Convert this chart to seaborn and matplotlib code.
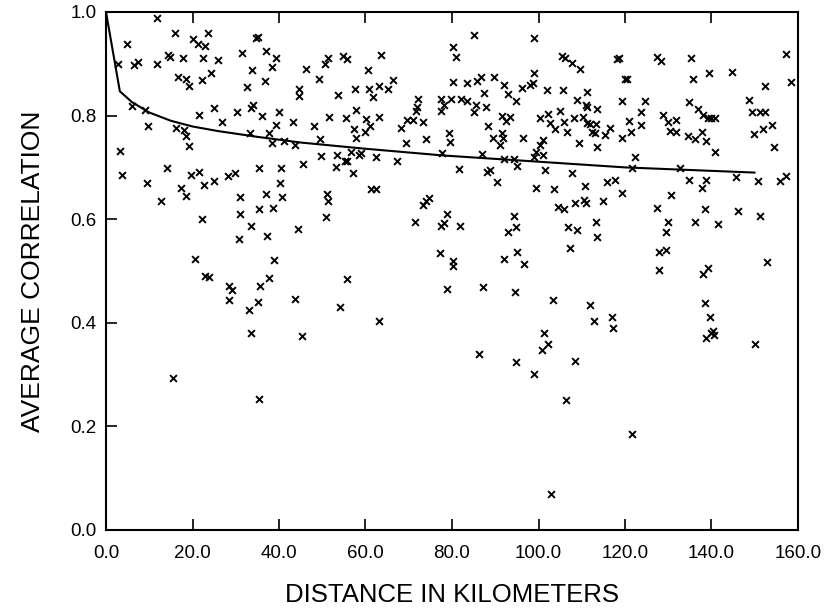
import matplotlib
matplotlib.use("Agg")
import matplotlib.pyplot as plt
import seaborn as sns
import pandas as pd
from matplotlib.ticker import FormatStrFormatter

# ---- data ----
distance_km = [
    11.8, 16.0, 23.5, 20.0, 21.2, 22.9, 4.8, 34.6, 2.8, 6.4, 7.4, 11.9, 14.3, 14.8, 17.7, 22.5,
    25.8, 31.4, 33.7, 24.2, 16.7, 18.6, 19.1, 22.3, 32.5, 5.9, 9.0, 9.8, 21.4, 25.0, 30.4, 26.9,
    33.6, 34.1, 16.3, 18.0, 18.6, 19.1, 33.3, 3.2, 3.6, 9.5, 14.1, 17.4, 18.4, 19.7, 21.5, 22.7,
    24.9, 28.1, 29.8, 12.7, 22.2, 31.0, 31.0, 33.5, 30.8, 20.6,
    35.1, 36.9, 39.4, 38.3, 36.8, 46.2, 51.3, 50.6, 54.9, 55.7, 63.6, 60.5, 49.2, 44.6, 44.6, 53.6,
    57.6, 60.7, 63.1, 65.1, 66.4, 61.7, 36.0, 40.0, 39.3, 43.3, 37.7, 38.4, 41.2, 43.7, 48.2, 49.4,
    51.6, 55.4, 57.8, 57.4, 57.8, 60.1, 61.1, 60.0, 63.1, 68.1, 69.6, 70.9, 71.6, 71.9, 72.2, 73.3,
    77.4, 77.4, 74.1, 69.4, 67.2, 62.4, 58.5, 59.0, 56.7, 53.4, 55.2, 55.8, 53.2, 57.1, 49.6, 45.6,
    35.4, 40.5, 40.3, 37.1, 40.8, 35.4, 38.5, 51.1, 51.4, 50.8, 61.3, 62.4, 44.3, 37.3, 38.8, 74.6,
    73.2, 74.1, 71.5, 77.4, 77.2,
    85.1, 99.0, 80.2, 80.9, 105.4, 106.2, 107.7, 109.5, 118.1, 118.7, 120.0, 98.9, 80.3, 83.4, 85.8, 86.6,
    89.7, 92.0, 92.9, 87.5, 94.8, 96.2, 98.0, 98.7, 102.0, 105.6, 111.2, 108.9, 110.9, 111.2, 113.5, 119.2,
    78.2, 79.7, 82.0, 83.5, 85.5, 85.2, 87.8, 91.6, 92.6, 93.4, 88.3, 79.3, 79.6, 89.5, 91.6, 91.8,
    91.2, 96.4, 100.4, 102.1, 102.7, 103.9, 105.0, 105.8, 106.6, 108.1, 109.4, 110.4, 111.2, 111.9, 112.3, 113.1,
    113.3, 113.6, 115.4, 116.5, 119.2, 101.0, 100.4, 99.5, 101.0, 98.9, 77.7, 87.0, 92.0, 94.4, 95.1, 81.6,
    88.1, 88.8, 101.4, 107.7, 90.4, 99.5, 103.5, 110.8, 115.8, 117.7, 119.4, 104.6, 105.8, 108.5, 110.6, 110.9,
    114.8, 78.8, 78.2, 81.9, 94.3, 92.9, 94.8, 106.8, 108.9, 113.3, 113.5, 107.3, 80.3, 80.3, 92.0, 95.1, 96.7,
    78.9, 87.2, 94.5, 103.3, 111.9, 112.9, 117.1, 117.3, 101.3, 102.3, 100.8, 86.3, 94.8, 108.5, 99.0, 106.4, 102.9,
    127.3, 128.3, 135.2, 157.3, 120.4, 135.7, 139.5, 144.8, 152.4, 158.3, 124.6, 123.8, 121.0, 123.6, 121.5, 122.4,
    121.7, 128.8, 129.9, 131.9, 130.5, 131.9, 134.9, 136.9, 138.0, 139.2, 139.9, 140.9, 137.9, 134.6, 136.2, 138.8,
    140.7, 132.8, 148.7, 149.3, 151.3, 152.4, 149.8, 151.8, 154.1, 154.4, 134.8, 138.8, 137.9, 145.7, 150.7, 155.9,
    157.2, 130.7, 127.3, 138.4, 146.1, 151.3, 130.0, 136.1, 141.6, 129.4, 127.8, 129.4, 152.8,
    127.8, 138.0, 139.3, 138.4, 139.7, 140.3, 139.8, 140.5, 138.8, 150.1, 121.7,
    22.8, 23.7, 28.5, 29.1, 28.5, 33.1, 33.5, 15.6, 35.7, 37.7, 35.1, 35.4, 43.8, 45.3, 55.8, 54.0, 63.2,
]
avg_corr = [
    0.989, 0.960, 0.959, 0.947, 0.938, 0.934, 0.938, 0.950, 0.900, 0.898, 0.904, 0.900, 0.917, 0.914, 0.912, 0.912,
    0.907, 0.920, 0.888, 0.882, 0.874, 0.871, 0.858, 0.869, 0.856, 0.818, 0.811, 0.780, 0.802, 0.814, 0.806, 0.787,
    0.814, 0.821, 0.777, 0.773, 0.761, 0.742, 0.767, 0.732, 0.685, 0.669, 0.698, 0.661, 0.644, 0.685, 0.692, 0.666,
    0.674, 0.683, 0.690, 0.635, 0.601, 0.642, 0.611, 0.587, 0.561, 0.523,
    0.951, 0.925, 0.912, 0.893, 0.866, 0.890, 0.911, 0.899, 0.915, 0.909, 0.917, 0.888, 0.870, 0.851, 0.838, 0.840,
    0.851, 0.851, 0.857, 0.851, 0.869, 0.836, 0.799, 0.806, 0.782, 0.788, 0.766, 0.748, 0.751, 0.743, 0.779, 0.755,
    0.797, 0.795, 0.810, 0.774, 0.757, 0.793, 0.779, 0.769, 0.797, 0.777, 0.792, 0.792, 0.808, 0.817, 0.833, 0.788,
    0.833, 0.808, 0.755, 0.748, 0.712, 0.721, 0.724, 0.728, 0.730, 0.724, 0.712, 0.713, 0.700, 0.690, 0.722, 0.706,
    0.698, 0.699, 0.670, 0.648, 0.642, 0.620, 0.622, 0.648, 0.635, 0.605, 0.658, 0.658, 0.582, 0.568, 0.521, 0.640,
    0.627, 0.635, 0.594, 0.586, 0.534,
    0.956, 0.950, 0.933, 0.913, 0.915, 0.912, 0.901, 0.889, 0.909, 0.911, 0.871, 0.882, 0.864, 0.862, 0.866, 0.875,
    0.875, 0.859, 0.841, 0.843, 0.829, 0.854, 0.859, 0.862, 0.849, 0.849, 0.846, 0.831, 0.820, 0.817, 0.813, 0.828,
    0.820, 0.832, 0.833, 0.828, 0.820, 0.806, 0.817, 0.799, 0.790, 0.798, 0.780, 0.766, 0.750, 0.756, 0.766, 0.756,
    0.743, 0.756, 0.795, 0.803, 0.785, 0.774, 0.808, 0.787, 0.768, 0.795, 0.748, 0.797, 0.785, 0.783, 0.769, 0.766,
    0.783, 0.740, 0.763, 0.777, 0.756, 0.753, 0.743, 0.730, 0.723, 0.721, 0.728, 0.725, 0.716, 0.716, 0.703, 0.697,
    0.692, 0.695, 0.695, 0.690, 0.671, 0.660, 0.658, 0.665, 0.672, 0.676, 0.651, 0.624, 0.620, 0.631, 0.637, 0.631,
    0.635, 0.611, 0.592, 0.586, 0.606, 0.576, 0.584, 0.584, 0.579, 0.594, 0.565, 0.545, 0.519, 0.510, 0.523, 0.536, 0.513,
    0.465, 0.470, 0.460, 0.444, 0.434, 0.404, 0.412, 0.389, 0.380, 0.359, 0.347, 0.340, 0.325, 0.326, 0.301, 0.251, 0.069,
    0.914, 0.906, 0.911, 0.919, 0.870, 0.871, 0.882, 0.885, 0.858, 0.864, 0.828, 0.806, 0.790, 0.782, 0.769, 0.720,
    0.699, 0.801, 0.788, 0.792, 0.771, 0.769, 0.827, 0.812, 0.802, 0.796, 0.796, 0.795, 0.769, 0.761, 0.754, 0.751,
    0.729, 0.698, 0.830, 0.806, 0.806, 0.806, 0.765, 0.775, 0.782, 0.739, 0.676, 0.676, 0.661, 0.682, 0.674, 0.674,
    0.684, 0.647, 0.622, 0.620, 0.616, 0.606, 0.594, 0.595, 0.591, 0.575, 0.537, 0.541, 0.518,
    0.502, 0.494, 0.506, 0.438, 0.412, 0.385, 0.380, 0.376, 0.370, 0.360, 0.185,
    0.490, 0.489, 0.472, 0.463, 0.444, 0.425, 0.381, 0.293, 0.472, 0.486, 0.441, 0.253, 0.446, 0.375, 0.485, 0.430, 0.403,
]
curve_km = [0.0, 3.2, 6.0, 10.0, 15.0, 20.0, 26.0, 35.0, 45.0, 60.0, 78.0, 100.0, 120.0, 150.0]
curve_corr = [1.0, 0.847, 0.826, 0.806, 0.790, 0.779, 0.770, 0.759, 0.748, 0.736, 0.723, 0.711, 0.700, 0.690]

x_ticks = [0, 20, 40, 60, 80, 100, 120, 140, 160]
y_ticks = [0.0, 0.2, 0.4, 0.6, 0.8, 1.0]
x_label = "DISTANCE IN KILOMETERS"
y_label = "AVERAGE CORRELATION"

pts = pd.DataFrame({"km": distance_km, "corr": avg_corr})
fit = pd.DataFrame({"km": curve_km, "corr": curve_corr})

sns.set_style("ticks")
plt.rcParams["font.family"] = ["Liberation Sans", "DejaVu Sans"]

fig = plt.figure(figsize=(8.24, 6.12), dpi=100)
ax = fig.add_axes([106 / 824, 1 - 530 / 612, (798 - 106) / 824, (530 - 12) / 612])

sns.scatterplot(data=pts, x="km", y="corr", marker="x", color="black", s=24,
                linewidth=1.4, ax=ax, legend=False, zorder=3)
sns.lineplot(data=fit, x="km", y="corr", color="black", linewidth=1.5,
             estimator=None, sort=False, ax=ax, legend=False)

ax.set_xlim(0, 160)
ax.set_ylim(0, 1.0)
ax.set_xticks(x_ticks)
ax.set_yticks(y_ticks)
ax.xaxis.set_major_formatter(FormatStrFormatter("%.1f"))
ax.yaxis.set_major_formatter(FormatStrFormatter("%.1f"))
ax.tick_params(axis="x", direction="in", length=8, width=1.2, top=True, bottom=True,
               labelsize=13.5, pad=11, colors="black")
ax.tick_params(axis="y", direction="in", length=8, width=1.2, left=True, right=False,
               labelsize=13.5, pad=7, colors="black")
for sp in ax.spines.values():
    sp.set_visible(True)
    sp.set_linewidth(1.5)
    sp.set_color("black")

ax.set_xlabel(x_label, fontsize=18.5, labelpad=15, color="black")
ax.set_ylabel(y_label, fontsize=19, labelpad=18, color="black")

fig.savefig("out.png", dpi=100, facecolor="white")
